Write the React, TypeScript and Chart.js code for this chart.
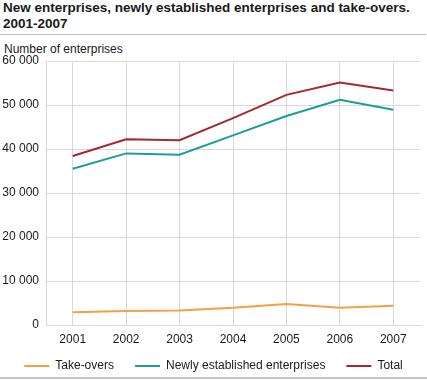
import React, { useEffect, useRef } from "react";
import { Chart, registerables } from "chart.js";

Chart.register(...registerables);

const years = ["2001", "2002", "2003", "2004", "2005", "2006", "2007"];
const takeOvers = [2900, 3200, 3300, 3900, 4800, 3900, 4400];
const newlyEstablished = [35500, 39000, 38700, 43100, 47500, 51200, 48900];
const total = [38400, 42200, 42000, 47000, 52300, 55100, 53300];

const FONT = "'Liberation Sans', Arial, Helvetica, sans-serif";

function fmt(v: number): string {
  return String(v).replace(/\B(?=(\d{3})+(?!\d))/g, " ");
}

export default function App() {
  const ref = useRef<HTMLCanvasElement | null>(null);

  useEffect(() => {
    document.body.style.margin = "0";
    const canvas = ref.current;
    if (!canvas) return;
    const chart = new Chart(canvas, {
      type: "line",
      data: {
        labels: years,
        datasets: [
          {
            label: "Take-overs",
            data: takeOvers,
            borderColor: "#f7a03e",
            backgroundColor: "#f7a03e",
            borderWidth: 2,
            pointRadius: 0,
            tension: 0,
          },
          {
            label: "Newly established enterprises",
            data: newlyEstablished,
            borderColor: "#1a9e9c",
            backgroundColor: "#1a9e9c",
            borderWidth: 2,
            pointRadius: 0,
            tension: 0,
          },
          {
            label: "Total",
            data: total,
            borderColor: "#a8262c",
            backgroundColor: "#a8262c",
            borderWidth: 2,
            pointRadius: 0,
            tension: 0,
          },
        ],
      },
      options: {
        animation: false,
        responsive: false,
        maintainAspectRatio: false,
        devicePixelRatio: 1,
        layout: { padding: { left: 0, right: 0, top: 61, bottom: -2 } },
        font: { family: FONT, size: 12 },
        color: "#1a1a1a",
        plugins: {
          title: { display: false },
          tooltip: { enabled: false },
          legend: {
            position: "bottom",
            labels: {
              usePointStyle: true,
              pointStyle: "line",
              pointStyleWidth: 25,
              boxHeight: 2,
              padding: 21,
              color: "#1a1a1a",
              font: { family: FONT, size: 12 },
            },
          },
        },
        scales: {
          x: {
            offset: true,
            grid: { color: "#d9d9d9", lineWidth: 1, drawTicks: false, offset: false },
            border: { color: "#d9d9d9" },
            ticks: {
              padding: 7,
              color: "#1a1a1a",
              font: { family: FONT, size: 12 },
              maxRotation: 0,
            },
            afterFit: (scale: any) => {
              scale.height = 14;
              scale._computeLabelArea = () => undefined;
            },
          },
          y: {
            min: 0,
            max: 60000,
            grid: { color: "#d9d9d9", lineWidth: 1, drawTicks: false },
            border: { color: "#d9d9d9" },
            ticks: {
              stepSize: 10000,
              padding: 7,
              color: "#1a1a1a",
              font: { family: FONT, size: 12 },
              callback: (v: any) => fmt(Number(v)),
            },
            afterFit: (scale: any) => {
              scale.width = 46;
            },
          },
          yRight: {
            type: "linear",
            position: "right",
            display: true,
            grid: { display: false, drawTicks: false },
            border: { display: false },
            ticks: { display: false },
            afterFit: (scale: any) => {
              scale.width = 7;
            },
          },
        },
      },
    });
    return () => chart.destroy();
  }, []);

  return (
    <div style={{ position: "relative", width: 427, height: 380, fontFamily: FONT, color: "#1a1a1a", overflow: "hidden" }}>
      <div
        style={{
          position: "absolute",
          left: 3,
          top: 0,
          fontWeight: "bold",
          fontSize: 13.5,
          lineHeight: "16px",
          whiteSpace: "nowrap",
        }}
      >
        New enterprises, newly established enterprises and take-overs.
        <br />
        2001-2007
      </div>
      <div style={{ position: "absolute", left: 0, top: 34, width: 426, height: 1, background: "#bdbdbd" }} />
      <div style={{ position: "absolute", left: 4, top: 42, fontSize: 12, lineHeight: "14px", whiteSpace: "nowrap" }}>
        Number of enterprises
      </div>
      <canvas ref={ref} width={427} height={380} style={{ position: "absolute", left: 0, top: 0, width: 427, height: 380 }} />
      <div style={{ position: "absolute", left: 0, top: 377, width: 427, height: 2, background: "#c4c4c4" }} />
    </div>
  );
}
